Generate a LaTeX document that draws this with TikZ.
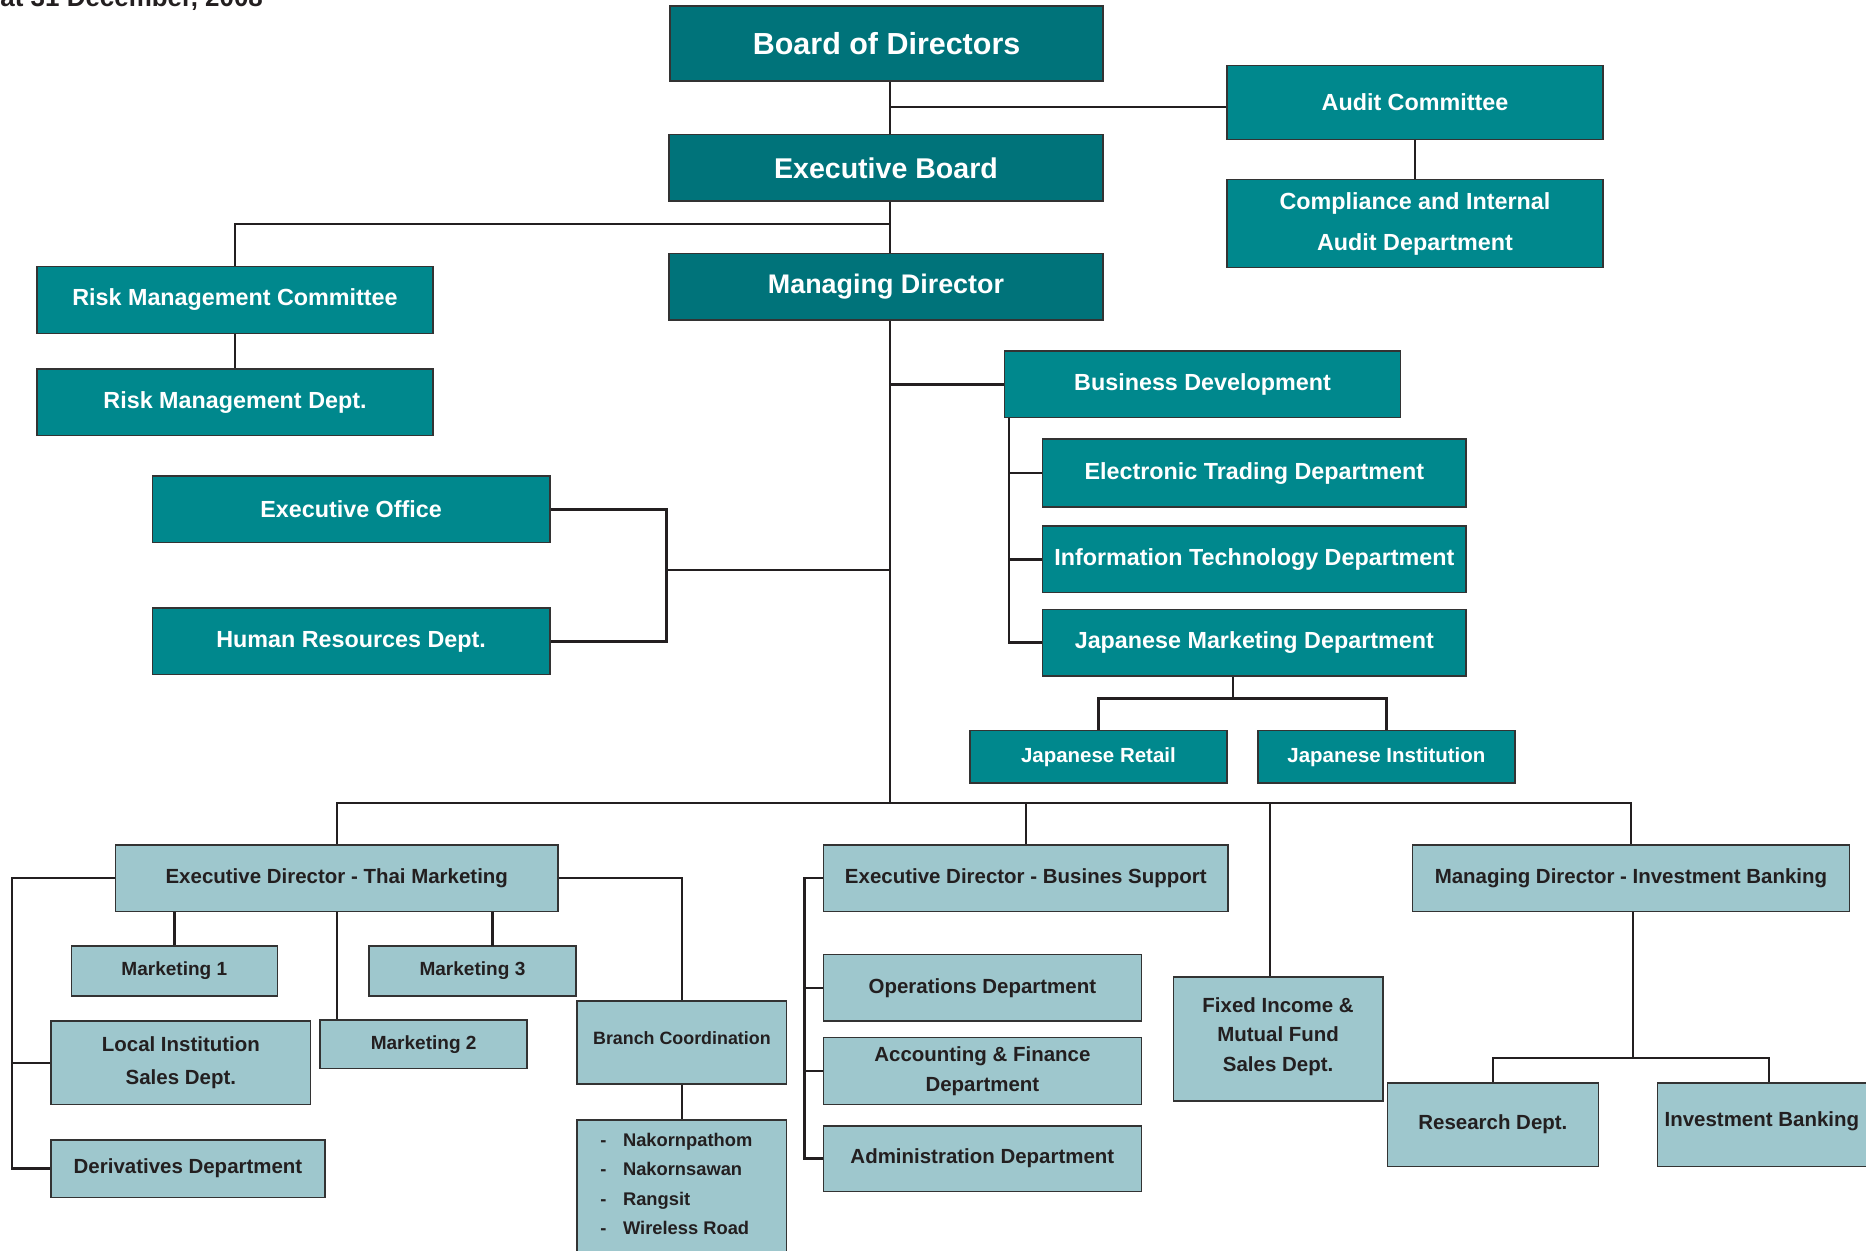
\documentclass[tikz,border=0pt]{standalone}
\usepackage{fontspec}
\setmainfont{Liberation Sans}
\usetikzlibrary{fit}
\definecolor{dkteal}{HTML}{00737A}
\definecolor{mdteal}{HTML}{00888D}
\definecolor{ltblue}{HTML}{9EC7CD}
\definecolor{ink}{HTML}{231F20}
\definecolor{edgegray}{HTML}{333333}
\begin{document}
\begin{tikzpicture}[x=0.5pt,y=-0.5pt,
  box/.style={draw=edgegray, line width=0.6pt, inner sep=0pt},
  dk/.style={box, fill=dkteal},
  md/.style={box, fill=mdteal},
  lt/.style={box, fill=ltblue},
  wt/.style={inner sep=0pt, align=center, text=white},
  dkt/.style={wt, font=\fontsize{12}{14}\selectfont\bfseries},
  mdt/.style={wt, font=\fontsize{9.8}{17}\selectfont\bfseries},
  smt/.style={wt, font=\fontsize{8.6}{10}\selectfont\bfseries},
  ltt/.style={inner sep=0pt, align=center, text=ink, font=\fontsize{8.6}{12.5}\selectfont\bfseries},
  mkt/.style={ltt, font=\fontsize{8}{10}\selectfont\bfseries},
  wire/.style={draw=ink, line width=1pt},
]
\useasboundingbox (0,0) rectangle (1568,1051);
\clip (0,0) rectangle (1568,1051);

% title (cut at top)
\node[anchor=base west, inner sep=0pt, text=ink, font=\fontsize{10.9}{13}\selectfont\bfseries] (title) at (0,5.5) {at 31 December, 2008};

% top level
\node[dk, fit={(563,5)(927,68)}, label={[dkt, font=\fontsize{12.8}{14}\selectfont\bfseries]center:Board of Directors}] (bod) {};
\node[dk, fit={(562,113)(927,169)}, label={[dkt]center:Executive Board}] (eb) {};
\node[dk, fit={(562,213)(927,269)}, label={[dkt, font=\fontsize{11.3}{14}\selectfont\bfseries]center:Managing Director}] (md) {};
\node[md, fit={(1031,55)(1347,117)}, label={[mdt]center:Audit Committee}] (ac) {};
\node[md, fit={(1031,151)(1347,225)}, label={[mdt]center:Compliance and Internal\\Audit Department}] (cia) {};
\node[md, fit={(31,224)(364,280)}, label={[mdt]center:Risk Management Committee}] (rmc) {};
\node[md, fit={(31,310)(364,366)}, label={[mdt]center:Risk Management Dept.}] (rmd) {};
\node[md, fit={(128,400)(462,456)}, label={[mdt]center:Executive Office}] (eo) {};
\node[md, fit={(128,511)(462,567)}, label={[mdt]center:Human Resources Dept.}] (hr) {};
\node[md, fit={(844,295)(1177,351)}, label={[mdt]center:Business Development}] (bd) {};
\node[md, fit={(876,369)(1232,426)}, label={[mdt]center:Electronic Trading Department}] (etd) {};
\node[md, fit={(876,442)(1232,498)}, label={[mdt]center:Information Technology Department}] (itd) {};
\node[md, fit={(876,512)(1232,568)}, label={[mdt]center:Japanese Marketing Department}] (jmd) {};
\node[md, fit={(815,614)(1031,658)}, label={[smt]center:Japanese Retail}] (jr) {};
\node[md, fit={(1057,614)(1273,658)}, label={[smt]center:Japanese Institution}] (ji) {};

% lower level
\node[lt, fit={(97,710)(469,766)}, label={[ltt]center:Executive Director - Thai Marketing}] (edt) {};
\node[lt, fit={(60,795)(233,837)}, label={[mkt]center:Marketing 1}] (m1) {};
\node[lt, fit={(310,795)(484,837)}, label={[mkt]center:Marketing 3}] (m3) {};
\node[lt, fit={(269,857)(443,898)}, label={[mkt]center:Marketing 2}] (m2) {};
\node[lt, fit={(43,858)(261,928)}, label={[ltt, font=\fontsize{8.6}{14}\selectfont\bfseries]center:Local Institution\\Sales Dept.}] (lis) {};
\node[lt, fit={(43,958)(273,1006)}, label={[ltt]center:Derivatives Department}] (dd) {};
\node[lt, fit={(485,841)(661,911)}, label={[ltt, font=\fontsize{7.5}{10}\selectfont\bfseries, yshift=2pt]center:Branch Coordination}] (bc) {};
\node[lt, fit={(485,941)(661,1070)}] (brl) {};
\node[anchor=base west, inner sep=0pt, text=ink, font=\fontsize{7.7}{12.4}\selectfont\bfseries] (brtxt) at (504,963)
  {\begin{tabular}[t]{@{}l@{\hspace{7pt}}l@{}}-&Nakornpathom\\-&Nakornsawan\\-&Rangsit\\-&Wireless Road\end{tabular}};
\node[lt, fit={(692,710)(1032,766)}, label={[ltt]center:Executive Director - Busines Support}] (edb) {};
\node[lt, fit={(692,802)(959,858)}, label={[ltt]center:Operations Department}] (op) {};
\node[lt, fit={(692,872)(959,928)}, label={[ltt]center:Accounting \& Finance\\Department}] (af) {};
\node[lt, fit={(692,946)(959,1001)}, label={[ltt]center:Administration Department}] (ad) {};
\node[lt, fit={(986,821)(1162,925)}, label={[ltt, yshift=1pt]center:Fixed Income \&\\Mutual Fund\\Sales Dept.}] (fi) {};
\node[lt, fit={(1187,710)(1554,766)}, label={[ltt]center:Managing Director - Investment Banking}] (mib) {};
\node[lt, fit={(1166,910)(1343,980)}, label={[ltt]center:Research Dept.}] (rd) {};
\node[lt, fit={(1393,910)(1580,980)}, label={[ltt, xshift=-3pt, yshift=1.5pt]center:Investment Banking}] (ib) {};

% junction coordinates
\coordinate (bus) at (748,675);
\coordinate (jrisk) at (748,188);
\coordinate (jeh) at (560,479);
\coordinate (bdx) at (848,351);
\coordinate (jj) at (1036,587);
\coordinate (fix) at (1067,675);
\coordinate (tlb) at (10,982);
\coordinate (m3x) at (414,795);
\coordinate (bx) at (676,741);
\coordinate (ibj) at (1372,889);

% connectors
\draw[wire] (bod.south -| bus) -- (eb.north -| bus);
\draw[wire] (eb.south -| bus) -- (md.north -| bus);
\draw[wire] (md.south -| bus) -- (bus);
\draw[wire] ([yshift=-2pt]ac.west) -- ([yshift=-2pt]ac.west -| bus);
\draw[wire] (ac.south) -- (cia.north);
\draw[wire] (rmc.north) |- (jrisk);
\draw[wire] (rmc.south) -- (rmd.north);
\draw[wire] (eo.east) -| (jeh) |- (hr.east);
\draw[wire] (jeh) -- (jeh -| bus);
\draw[wire] (bd.west) -- (bd.west -| bus);
\draw[wire] (bdx) |- (jmd.west);
\draw[wire] (bdx |- etd.west) -- (etd.west);
\draw[wire] (bdx |- itd.west) -- (itd.west);
\draw[wire] (jmd.south -| jj) -- (jj);
\draw[wire] (jr.north) |- (jj) -| (ji.north);
\draw[wire] (edt.north) |- (bus) -| (mib.north);
\draw[wire] (edb.north) -- (edb.north |- bus);
\draw[wire] (fix) -- (fix |- fi.north);
\draw[wire] (edt.west) -| (tlb) -- (dd.west);
\draw[wire] (lis.west) -- (lis.west -| tlb);
\draw[wire] (m1.north) -- (m1.north |- edt.south);
\draw[wire] (m3x) -- (m3x |- edt.south);
\draw[wire] (edt.south) -- (edt.south |- m2.north);
\draw[wire] (edt.east) -| (bc.north);
\draw[wire] (bc.south) -- (brl.north);
\draw[wire] (edb.west) -| (ad.west -| bx) -- (ad.west);
\draw[wire] (op.west) -- (op.west -| bx);
\draw[wire] (af.west) -- (af.west -| bx);
\draw[wire] (mib.south -| ibj) -- (ibj);
\draw[wire] (rd.north) |- (ibj) -| (ib.north);
\end{tikzpicture}
\end{document}
